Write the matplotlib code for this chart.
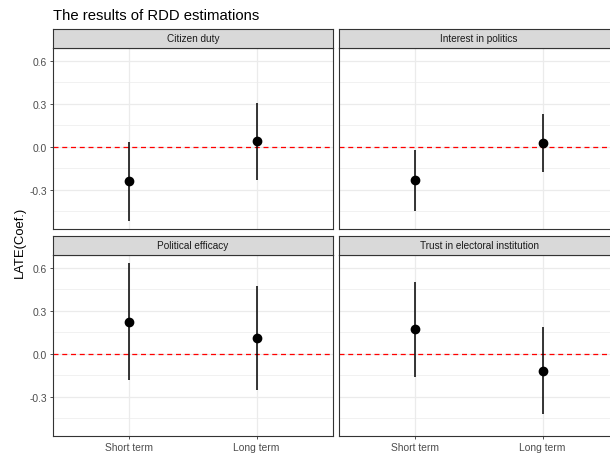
import matplotlib.pyplot as plt

plt.rcParams['font.family'] = ['Liberation Sans', 'DejaVu Sans']

panels = ["Citizen duty", "Interest in politics", "Political efficacy",
          "Trust in electoral institution"]
terms = ["Short term", "Long term"]

# point estimate, lower and upper bound of the CI (short term, long term)
coef = [[-0.24, 0.04], [-0.23, 0.03], [0.225, 0.112], [0.171, -0.117]]
lower = [[-0.52, -0.235], [-0.445, -0.175], [-0.185, -0.256], [-0.16, -0.422]]
upper = [[0.035, 0.31], [-0.019, 0.232], [0.635, 0.475], [0.503, 0.185]]

W, H = 610, 456
fig = plt.figure(figsize=(W / 100, H / 100), dpi=100)

# panel boxes in pixels: left, top of strip, width
lefts = [53, 339]
tops = [30, 237]
pw, sh, ph = 280, 19, 181
border = "#333333"

for i, name in enumerate(panels):
    r, c = divmod(i, 2)
    x0 = lefts[c]
    y_strip = tops[r]
    ax = fig.add_axes([x0 / W, 1 - (y_strip + sh + ph) / H, pw / W, ph / H])
    st = fig.add_axes([x0 / W, 1 - (y_strip + sh) / H, pw / W, sh / H])

    st.set_facecolor("#D9D9D9")
    st.set_xticks([])
    st.set_yticks([])
    for s in st.spines.values():
        s.set_color(border)
        s.set_linewidth(0.8)
    st.text(0.5, 0.5, name, ha="center", va="center", fontsize=7.2,
            color="#1A1A1A", transform=st.transAxes)

    xs = [1, 2]
    ax.vlines(xs, lower[i], upper[i], color="black", lw=1.1, zorder=3)
    ax.plot(xs, coef[i], "o", color="black", ms=6, zorder=4)
    ax.axhline(0, color="red", ls=(0, (4, 3)), lw=0.9, zorder=2)

    ax.set_xlim(0.4, 2.6)
    ax.set_ylim(-0.574, 0.691)
    ax.set_yticks([-0.3, 0.0, 0.3, 0.6])
    ax.set_yticks([-0.45, -0.15, 0.15, 0.45], minor=True)
    ax.set_xticks(xs)
    ax.grid(True, which="major", color="#EBEBEB", lw=0.9)
    ax.grid(True, which="minor", axis="y", color="#EBEBEB", lw=0.5)
    ax.set_axisbelow(True)
    ax.tick_params(which="minor", length=0)
    ax.tick_params(which="major", length=2.5, width=0.6, color=border,
                   labelsize=7.4, labelcolor="#4D4D4D", pad=2)
    for s in ax.spines.values():
        s.set_color(border)
        s.set_linewidth(0.8)

    if c == 0:
        ax.set_yticklabels(["-0.3", "0.0", "0.3", "0.6"])
    else:
        ax.set_yticklabels([])
        ax.tick_params(axis="y", length=0)
    if r == 1:
        ax.set_xticklabels(terms)
    else:
        ax.set_xticklabels([])
        ax.tick_params(axis="x", length=0)

fig.text(53 / W, 1 - 16 / H, "The results of RDD estimations", fontsize=10.7,
         ha="left", va="center", color="black")
fig.text(20 / W, 1 - 242 / H, "LATE(Coef.)", fontsize=9.4, rotation=90,
         ha="center", va="center", color="black")

fig.savefig("out.png", dpi=100)
